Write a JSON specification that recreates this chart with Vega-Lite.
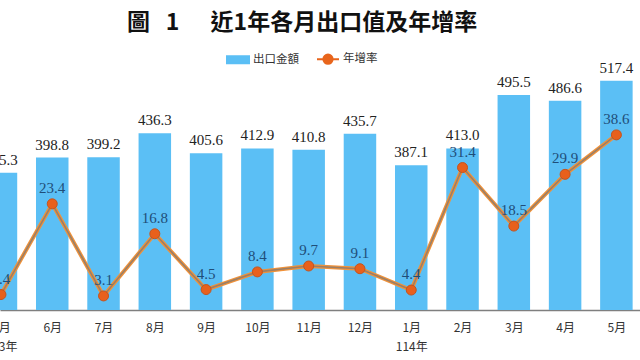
{
  "$schema": "https://vega.github.io/schema/vega-lite/v6.json",
  "width": 640,
  "height": 240,
  "autosize": {"type": "none"},
  "padding": {"top": 70, "left": 0, "right": 0, "bottom": 50},
  "background": "white",
  "title": {
    "text": "圖\u00a0\u00a0\u00a01\u00a0\u00a0\u00a0\u00a0\u00a0\u00a0近1年各月出口值及年增率",
    "anchor": "start",
    "frame": "group",
    "dx": 127,
    "fontSize": 23,
    "font": "Noto Sans CJK TC",
    "fontWeight": "bold",
    "color": "#111111",
    "offset": 12
  },
  "data": {
    "values": [
      {"i": 0, "amount": 375.3, "growth": 3.4},
      {"i": 1, "amount": 398.8, "growth": 23.4},
      {"i": 2, "amount": 399.2, "growth": 3.1},
      {"i": 3, "amount": 436.3, "growth": 16.8},
      {"i": 4, "amount": 405.6, "growth": 4.5},
      {"i": 5, "amount": 412.9, "growth": 8.4},
      {"i": 6, "amount": 410.8, "growth": 9.7},
      {"i": 7, "amount": 435.7, "growth": 9.1},
      {"i": 8, "amount": 387.1, "growth": 4.4},
      {"i": 9, "amount": 413.0, "growth": 31.4},
      {"i": 10, "amount": 495.5, "growth": 18.5},
      {"i": 11, "amount": 486.6, "growth": 29.9},
      {"i": 12, "amount": 517.4, "growth": 38.6}
    ]
  },
  "encoding": {
    "x": {
      "field": "i",
      "type": "quantitative",
      "scale": {"domain": [0.0787, 12.363], "nice": false, "zero": false},
      "axis": {
        "values": [0, 1, 2, 3, 4, 5, 6, 7, 8, 9, 10, 11, 12],
        "labelExpr": "datum.value == 0 ? ['5月', '113年'] : datum.value == 8 ? ['1月', '114年'] : (((datum.value + 4) % 12) + 1) + '月'",
        "title": null,
        "grid": false,
        "ticks": false,
        "domainColor": "#7f7f7f",
        "domainWidth": 1.5,
        "labelFont": "Noto Sans CJK TC",
        "labelFontSize": 12,
        "labelColor": "#333333",
        "labelPadding": 12,
        "labelLineHeight": 19,
        "labelOverlap": false,
        "labelBound": false,
        "labelFlush": false
      }
    }
  },
  "layer": [
    {
      "layer": [
        {
          "mark": {"type": "bar", "width": 32.5, "clip": true},
          "encoding": {
            "y": {"field": "amount", "type": "quantitative", "scale": {"domain": [163.3, 534.2], "nice": false, "zero": false}, "axis": null},
            "color": {"datum": "出口金額", "type": "nominal", "scale": {"domain": ["出口金額", "年增率"], "range": ["#5BBFF5", "#E8651C"]},
              "legend": {
                "orient": "none",
                "legendX": 226,
                "legendY": -23,
                "direction": "horizontal",
                "title": null,
                "labelFont": "Noto Sans CJK TC",
                "labelFontSize": 11.5,
                "labelColor": "#333333",
                "symbolSize": 484,
                "columnPadding": 14,
                "labelOffset": 3,
                "symbolStrokeWidth": 2,
                "encode": {
                  "symbols": {
                    "update": {
                      "shape": {"signal": "datum.value === '出口金額' ? 'M-1,-0.32H1V0.32H-1Z' : 'M-1,0H1M0.42,0A0.42,0.42,0,1,1,-0.42,0A0.42,0.42,0,1,1,0.42,0Z'"},
                      "fill": {"signal": "datum.value === '出口金額' ? '#5BBFF5' : '#E8651C'"},
                      "stroke": {"signal": "datum.value === '出口金額' ? '#5BBFF5' : '#E8822E'"},
                      "strokeWidth": {"value": 2}
                    }
                  }
                }
              }
            }
          }
        },
        {
          "mark": {"type": "text", "baseline": "bottom", "dy": -5, "font": "Liberation Serif", "fontSize": 15, "color": "#222222"},
          "encoding": {
            "y": {"field": "amount", "type": "quantitative", "scale": {"domain": [163.3, 534.2], "nice": false, "zero": false}, "axis": null},
            "text": {"field": "amount", "type": "quantitative", "format": ".1f"}
          }
        }
      ]
    },
    {
      "layer": [
        {
          "mark": {"type": "line", "stroke": "#F0923A", "strokeWidth": 4},
          "encoding": {
            "y": {"field": "growth", "type": "quantitative", "scale": {"domain": [0, 52.9], "nice": false, "zero": false}, "axis": null}
          }
        },
        {
          "mark": {"type": "line", "stroke": "#9A7F68", "strokeWidth": 1.6},
          "encoding": {
            "y": {"field": "growth", "type": "quantitative", "scale": {"domain": [0, 52.9], "nice": false, "zero": false}, "axis": null},
            "color": {"datum": "年增率", "type": "nominal"}
          }
        },
        {
          "mark": {"type": "point", "filled": true, "size": 100, "fill": "#E8601C", "stroke": "#C4541E", "strokeWidth": 1, "opacity": 1},
          "encoding": {
            "y": {"field": "growth", "type": "quantitative", "scale": {"domain": [0, 52.9], "nice": false, "zero": false}, "axis": null}
          }
        },
        {
          "mark": {"type": "text", "baseline": "bottom", "dy": -8, "font": "Liberation Serif", "fontSize": 15, "color": "#1F4E79"},
          "encoding": {
            "y": {"field": "growth", "type": "quantitative", "scale": {"domain": [0, 52.9], "nice": false, "zero": false}, "axis": null},
            "text": {"field": "growth", "type": "quantitative", "format": ".1f"}
          }
        }
      ]
    }
  ],
  "resolve": {"scale": {"y": "independent"}},
  "config": {"view": {"stroke": null}}
}
